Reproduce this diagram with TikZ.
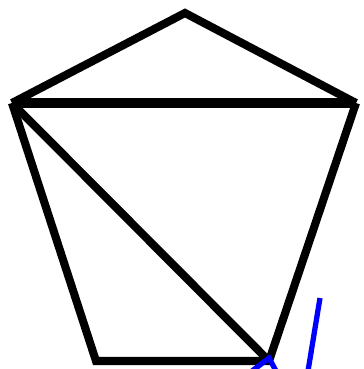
\documentclass[tikz,border=0pt]{standalone}
\begin{document}
\begin{tikzpicture}[x=0.02cm, y=-0.02cm, line join=miter]
    \tikzset{edge/.style={line width=4.6pt, black}, bluestroke/.style={line width=3pt, blue}}
    \useasboundingbox (0,0) rectangle (364,369);
    % Corners of the pentagon
    \coordinate (top) at (185,13);
    \coordinate (left) at (12,103);
    \coordinate (right) at (356,103);
    \coordinate (botleft) at (96,361);
    \coordinate (botright) at (269,361);
    % Outline
    \draw[edge] (left) -- (top) -- (right);
    \draw[edge] (right) -- (botright) -- (botleft) -- (left);
    % Cross line and diagonal
    \draw[line width=5.6pt] (left) -- (right);
    \draw[edge] (left) -- (botright);
    % Blue marks
    \coordinate (m1) at (252,371);
    \coordinate (m2) at (269,358);
    \coordinate (m3) at (276,371);
    \draw[bluestroke] (m1) -- (m2) -- (m3);
    \coordinate (s1) at (320,298);
    \coordinate (s2) at (308,371);
    \draw[bluestroke] (s1) -- (s2);
\end{tikzpicture}
\end{document}
